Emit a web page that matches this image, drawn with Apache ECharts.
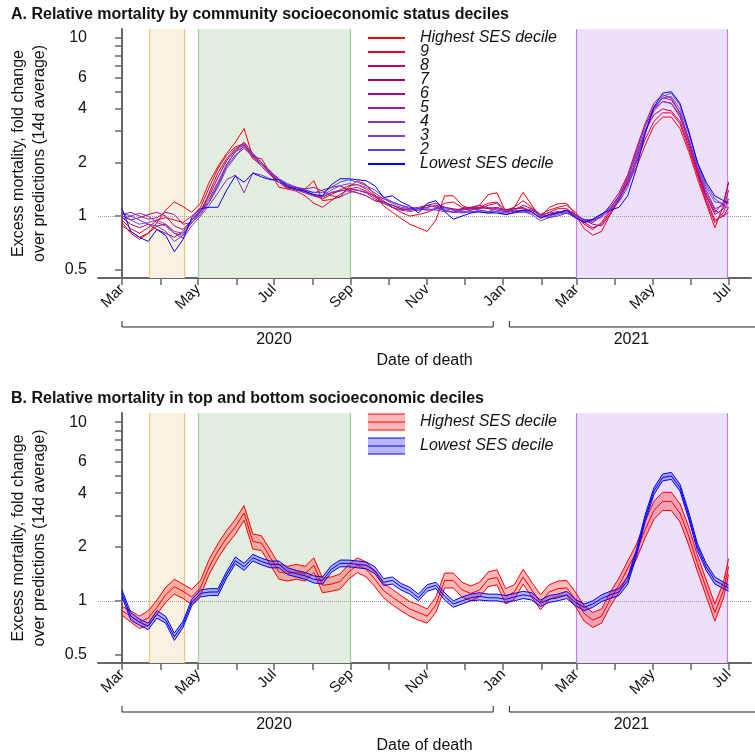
<!DOCTYPE html>
<html>
<head>
<meta charset="utf-8">
<script src="https://cdn.jsdelivr.net/npm/echarts@6/dist/echarts.min.js"></script>
<style>
  html, body { margin: 0; padding: 0; background: #fff; }
  #chart { width: 755px; height: 752px; }
</style>
</head>
<body>
<div id="chart"></div>
<script>
// weekly samples from 1 Mar 2020, last one on 1 Jul 2021
const startDate = '2020-03-01';
const DAY = 86400000;
const t0 = Date.parse(startDate);
const dayOf = s => (Date.parse(s) - t0) / DAY;
const shift = (s, n) => new Date(Date.parse(s) + n * DAY).toISOString().slice(0, 10);

const dates = [];
for (let i = 0; i < 70; i++) dates.push(shift(startDate, 7 * i));
dates.push('2021-07-01');

const decileNames = ['Highest SES decile', '9', '8', '7', '6', '5', '4', '3', '2', 'Lowest SES decile'];

// fold change
const highest = [0.88,0.82,0.76,0.80,0.92,1.08,1.20,1.13,1.05,1.18,
  1.55,1.90,2.25,2.60,3.10,2.15,2.10,1.75,1.45,1.42,
  1.45,1.42,1.58,1.22,1.24,1.28,1.45,1.58,1.50,1.32,
  1.14,1.05,0.97,0.90,0.86,0.82,0.95,1.30,1.30,1.15,
  1.10,1.15,1.32,1.35,1.06,1.12,1.36,1.15,0.98,1.12,
  1.17,1.18,1.02,0.85,0.78,0.82,1.02,1.22,1.52,1.88,
  2.50,3.20,3.60,3.60,3.10,2.30,1.62,1.18,0.86,1.15,1.55];
const dec9 = [0.95,0.85,0.80,0.86,0.95,0.98,0.95,0.92,1.00,1.12,
  1.45,1.85,2.20,2.45,2.55,2.10,1.95,1.80,1.55,1.45,
  1.40,1.38,1.30,1.25,1.32,1.40,1.48,1.50,1.42,1.30,
  1.22,1.12,1.05,1.00,1.02,1.05,1.10,1.18,1.20,1.12,
  1.10,1.12,1.18,1.20,1.08,1.12,1.22,1.12,1.02,1.08,
  1.12,1.15,1.05,0.92,0.86,0.90,1.05,1.25,1.55,2.00,
  2.70,3.40,3.80,3.80,3.30,2.40,1.70,1.20,0.92,1.05,1.25];
const dec8 = [0.92,0.80,0.74,0.80,0.88,0.90,0.80,0.78,0.92,1.05,
  1.35,1.75,2.10,2.40,2.50,2.20,1.95,1.75,1.55,1.42,
  1.38,1.30,1.18,1.12,1.22,1.32,1.42,1.45,1.38,1.28,
  1.20,1.15,1.10,1.08,1.10,1.12,1.15,1.12,1.10,1.08,
  1.12,1.10,1.15,1.18,1.05,1.08,1.15,1.10,1.00,1.05,
  1.10,1.10,1.02,0.90,0.84,0.92,1.08,1.30,1.65,2.20,
  3.00,3.70,4.00,3.90,3.40,2.50,1.75,1.25,0.95,1.00,1.12];
const dec7 = [0.98,0.90,0.86,0.90,0.84,0.80,0.76,0.82,0.95,1.08,
  1.30,1.65,2.05,2.35,2.60,2.25,2.00,1.78,1.60,1.48,
  1.42,1.35,1.30,1.28,1.35,1.38,1.42,1.40,1.35,1.25,
  1.18,1.12,1.08,1.10,1.12,1.15,1.12,1.08,1.05,1.10,
  1.08,1.12,1.10,1.12,1.08,1.10,1.12,1.05,0.98,1.02,
  1.05,1.08,1.00,0.95,0.92,1.00,1.15,1.35,1.70,2.40,
  3.30,4.30,4.80,4.60,3.80,2.70,1.80,1.30,1.05,1.20,1.55];
const dec6 = [1.00,0.95,0.98,1.02,1.05,1.00,0.88,0.84,0.95,1.06,
  1.25,1.55,1.95,2.30,2.45,2.20,1.95,1.72,1.55,1.50,
  1.45,1.40,1.35,1.40,1.45,1.48,1.40,1.35,1.30,1.22,
  1.20,1.15,1.10,1.08,1.10,1.15,1.18,1.12,1.08,1.10,
  1.12,1.15,1.10,1.08,1.06,1.10,1.10,1.08,1.02,1.00,
  1.04,1.08,1.02,0.95,0.90,0.88,1.02,1.25,1.55,2.10,
  3.00,3.90,4.40,4.30,3.60,2.60,1.80,1.30,1.02,1.10,1.40];
const dec5 = [1.02,1.05,1.00,0.96,0.98,1.05,1.02,0.90,0.92,1.02,
  1.20,1.50,1.90,2.20,2.40,2.15,1.90,1.70,1.55,1.45,
  1.40,1.42,1.45,1.38,1.30,1.28,1.35,1.40,1.36,1.30,
  1.25,1.20,1.15,1.12,1.10,1.08,1.10,1.12,1.08,1.05,
  1.08,1.10,1.12,1.10,1.08,1.06,1.08,1.10,1.02,1.04,
  1.06,1.04,0.98,0.92,0.94,1.00,1.12,1.30,1.60,2.30,
  3.20,4.10,4.60,4.50,3.80,2.70,1.85,1.35,1.08,1.00,1.05];
const dec4 = [0.96,1.00,1.04,1.00,0.92,0.88,0.80,0.75,0.88,1.00,
  1.15,1.35,1.60,1.70,1.35,1.75,1.70,1.62,1.55,1.48,
  1.40,1.35,1.30,1.28,1.36,1.40,1.38,1.35,1.30,1.22,
  1.18,1.12,1.08,1.06,1.08,1.10,1.08,1.06,1.05,1.08,
  1.10,1.08,1.06,1.10,1.05,1.06,1.05,1.08,1.00,0.98,
  1.00,1.04,1.00,0.96,0.95,0.98,1.08,1.28,1.62,2.30,
  3.20,4.00,4.40,4.30,3.70,2.70,1.90,1.40,1.10,1.15,1.25];
const dec3 = [1.05,0.95,0.90,0.92,0.95,0.90,0.82,0.80,0.92,1.05,
  1.20,1.50,1.95,2.30,2.55,2.20,1.95,1.75,1.60,1.50,
  1.42,1.36,1.32,1.30,1.40,1.48,1.52,1.50,1.45,1.35,
  1.25,1.18,1.12,1.10,1.08,1.12,1.14,1.10,1.08,1.06,
  1.05,1.08,1.06,1.06,1.04,1.08,1.06,1.04,0.98,1.00,
  1.04,1.06,1.00,0.94,0.95,1.02,1.12,1.25,1.50,2.10,
  3.00,4.00,4.60,4.70,4.00,2.90,1.95,1.45,1.20,1.18,1.20];
const dec2 = [1.04,1.00,0.95,0.90,0.88,0.82,0.72,0.78,0.95,1.08,
  1.20,1.45,1.85,2.15,2.50,2.25,2.00,1.78,1.62,1.52,
  1.45,1.40,1.36,1.35,1.45,1.55,1.60,1.55,1.48,1.40,
  1.28,1.20,1.15,1.10,1.10,1.08,1.10,1.08,1.05,1.04,
  1.06,1.05,1.04,1.06,1.02,1.04,1.06,1.02,0.94,0.98,
  1.02,1.05,0.98,0.93,0.96,1.02,1.10,1.20,1.45,2.00,
  2.90,4.00,4.70,4.90,4.20,3.00,2.00,1.50,1.25,1.15,1.10];
const lowest = [1.10,0.82,0.76,0.72,0.84,0.78,0.63,0.74,0.98,1.10,
  1.12,1.12,1.40,1.68,1.55,1.74,1.66,1.60,1.60,1.46,
  1.42,1.38,1.32,1.30,1.50,1.62,1.62,1.60,1.58,1.48,
  1.27,1.30,1.20,1.14,1.04,1.18,1.22,1.06,0.96,1.00,
  1.04,1.06,1.04,1.04,1.02,1.05,1.08,1.06,0.97,1.02,
  1.04,1.08,0.98,0.92,0.96,1.03,1.08,1.12,1.30,1.85,
  2.90,4.10,4.90,5.00,4.30,3.00,2.00,1.55,1.30,1.22,1.18];

// confidence bands for panel B
const highestLo = [0.83,0.76,0.70,0.73,0.84,0.98,1.09,1.03,0.95,1.07,
  1.41,1.73,2.05,2.36,2.82,1.95,1.91,1.59,1.32,1.29,
  1.32,1.29,1.44,1.11,1.13,1.16,1.32,1.44,1.36,1.20,
  1.04,0.95,0.88,0.82,0.78,0.75,0.86,1.18,1.18,1.05,
  1.00,1.05,1.20,1.23,0.96,1.02,1.24,1.05,0.89,1.02,
  1.06,1.07,0.93,0.77,0.71,0.75,0.93,1.11,1.38,1.71,
  2.25,2.85,3.20,3.20,2.76,2.05,1.46,1.06,0.77,1.04,1.40];
const highestHi = [0.93,0.88,0.82,0.88,1.01,1.19,1.32,1.24,1.16,1.30,
  1.71,2.09,2.48,2.86,3.41,2.37,2.31,1.93,1.60,1.56,
  1.60,1.56,1.74,1.34,1.36,1.41,1.60,1.74,1.65,1.45,
  1.25,1.16,1.07,0.99,0.95,0.90,1.05,1.43,1.43,1.27,
  1.21,1.27,1.45,1.49,1.17,1.23,1.50,1.27,1.08,1.23,
  1.29,1.30,1.12,0.94,0.86,0.90,1.12,1.34,1.67,2.07,
  2.78,3.60,4.05,4.05,3.49,2.59,1.80,1.31,0.96,1.28,1.72];
const lowestLo = [1.05,0.78,0.73,0.69,0.80,0.75,0.60,0.71,0.94,1.05,
  1.07,1.07,1.34,1.61,1.48,1.67,1.59,1.53,1.53,1.40,
  1.36,1.32,1.26,1.24,1.44,1.55,1.55,1.53,1.51,1.42,
  1.22,1.24,1.15,1.09,1.00,1.13,1.17,1.01,0.92,0.96,
  1.00,1.01,1.00,1.00,0.98,1.00,1.03,1.01,0.93,0.98,
  1.00,1.03,0.94,0.88,0.92,0.99,1.03,1.07,1.24,1.77,
  2.77,3.92,4.69,4.78,4.11,2.87,1.91,1.48,1.24,1.17,1.13];
const lowestHi = [1.15,0.86,0.79,0.75,0.88,0.82,0.66,0.77,1.02,1.15,
  1.17,1.17,1.46,1.76,1.62,1.82,1.73,1.67,1.67,1.53,
  1.48,1.44,1.38,1.36,1.57,1.69,1.69,1.67,1.65,1.55,
  1.33,1.36,1.25,1.19,1.09,1.23,1.27,1.11,1.00,1.05,
  1.09,1.11,1.09,1.09,1.07,1.10,1.13,1.11,1.01,1.07,
  1.09,1.13,1.02,0.96,1.00,1.08,1.13,1.17,1.36,1.93,
  3.03,4.28,5.12,5.23,4.49,3.14,2.09,1.62,1.36,1.27,1.23];

const monthTicks = ['2020-03-01','2020-04-01','2020-05-01','2020-06-01','2020-07-01','2020-08-01',
  '2020-09-01','2020-10-01','2020-11-01','2020-12-01','2021-01-01','2021-02-01','2021-03-01',
  '2021-04-01','2021-05-01','2021-06-01','2021-07-01'];
const monthLabels = ['Mar','','May','','Jul','','Sep','','Nov','','Jan','','Mar','','May','','Jul'];
const yTicks = [0.5, 1, 2, 3, 4, 5, 6, 7, 8, 9, 10];
const yLabels = [0.5, 1, 2, 4, 6, 10];

// shaded periods
const periodStart = ['2020-03-23', '2020-05-01', '2021-03-01'];
const periodEnd = ['2020-04-20', '2020-08-31', '2021-06-30'];

// years under the date axis
const yearNames = ['2020', '2021'];
const yearLabelAt = ['2020-07-01', '2021-04-14'];
const yearFrom = ['2020-03-01', '2021-01-06'];
const yearTo = ['2020-12-24', null];

// ---- styles ----
const FONT = '"Liberation Sans", Arial, Helvetica, sans-serif';
const decileColors = ['#ff0000', '#e8002e', '#cc0050', '#b0005f', '#a00a80',
  '#9a1ea0', '#8c30c0', '#7a40d8', '#5a3ee8', '#0000ff'];
const periodFill = ['#f9f1e1', '#e3eee0', '#ede0fc'];
const periodEdge = ['#efc777', '#a3cf9d', '#c27ff4'];
const AXIS = '#666';
const grids = [{ top: 29, height: 249 }, { top: 413, height: 250 }];

const tickDays = monthTicks.map(dayOf);
const labelDays = tickDays.filter((d, i) => monthLabels[i] !== '');
const toXY = arr => dates.map((d, i) => [dayOf(d), Math.log10(arr[i])]);

function xAx(gi) {
  return {
    type: 'value', gridIndex: gi, min: -19.3, max: 505,
    axisLine: { show: true, onZero: false, lineStyle: { color: AXIS, width: 2 } },
    axisTick: { show: true, customValues: tickDays, length: 7, lineStyle: { color: AXIS, width: 1.5 } },
    axisLabel: {
      customValues: labelDays, rotate: 45, margin: 9, fontSize: 15, color: '#111', fontFamily: FONT,
      formatter: v => {
        const i = tickDays.findIndex(t => Math.abs(t - v) < 0.01);
        return i >= 0 ? monthLabels[i] : '';
      }
    },
    splitLine: { show: false }
  };
}

function yAx(gi) {
  return {
    type: 'value', gridIndex: gi, min: -0.348, max: 1.051,
    axisLine: { show: true, lineStyle: { color: AXIS, width: 2 } },
    axisTick: { show: true, customValues: yTicks.map(Math.log10), length: 7, lineStyle: { color: AXIS, width: 1.5 } },
    axisLabel: {
      customValues: yLabels.map(Math.log10), margin: 11, fontSize: 16, color: '#111', fontFamily: FONT,
      formatter: v => {
        const x = Math.pow(10, v);
        return x < 0.99 ? x.toFixed(1) : String(Math.round(x));
      }
    },
    splitLine: { show: false }
  };
}

function backdrop(gi) {
  return {
    type: 'line', xAxisIndex: gi, yAxisIndex: gi, data: [], silent: true, z: 1,
    markArea: {
      silent: true, z: 1,
      data: periodStart.map((s, i) => [
        { xAxis: dayOf(s), itemStyle: { color: periodFill[i] } },
        { xAxis: dayOf(periodEnd[i]) }
      ])
    },
    markLine: {
      silent: true, z: 1, symbol: 'none', label: { show: false },
      data: [].concat(
        ...periodStart.map((s, i) => [
          { xAxis: dayOf(s), lineStyle: { color: periodEdge[i], type: 'solid', width: 1.2 } },
          { xAxis: dayOf(periodEnd[i]), lineStyle: { color: periodEdge[i], type: 'solid', width: 1.2 } }
        ]),
        [{ yAxis: 0, lineStyle: { color: '#a0a0a0', type: 'dotted', width: 1 } }]
      )
    }
  };
}

const decileValues = [highest, dec9, dec8, dec7, dec6, dec5, dec4, dec3, dec2, lowest];

const series = [backdrop(0), backdrop(1)];
decileValues.forEach((vals, i) => {
  series.push({
    type: 'line', name: decileNames[i], xAxisIndex: 0, yAxisIndex: 0,
    data: toXY(vals), symbol: 'none', color: decileColors[i],
    lineStyle: { width: 1, color: decileColors[i] }, z: 3
  });
});

// band = one polygon through the axis scales, plus three lines
function band(lo, mid, hi, color, fill) {
  const loXY = toXY(lo), hiXY = toXY(hi);
  const common = { xAxisIndex: 1, yAxisIndex: 1, silent: true, z: 3 };
  return [
    Object.assign({}, common, {
      type: 'custom', data: [loXY[0]], clip: true,
      renderItem: (params, api) => ({
        type: 'polygon',
        shape: { points: hiXY.map(p => api.coord(p)).concat(loXY.slice().reverse().map(p => api.coord(p))) },
        style: { fill }
      })
    }),
    Object.assign({}, common, { type: 'line', symbol: 'none', data: loXY, lineStyle: { width: 1, color } }),
    Object.assign({}, common, { type: 'line', symbol: 'none', data: toXY(mid), lineStyle: { width: 1, color } }),
    Object.assign({}, common, { type: 'line', symbol: 'none', data: hiXY, lineStyle: { width: 1, color } })
  ];
}
series.push(...band(highestLo, highest, highestHi, '#ff0000', 'rgba(255,0,0,0.28)'));
series.push(...band(lowestLo, lowest, lowestHi, '#0000ff', 'rgba(0,0,255,0.28)'));

const chart = echarts.init(document.getElementById('chart'));
chart.setOption({
  animation: false,
  backgroundColor: '#fff',
  title: [
    { text: 'A. Relative mortality by community socioeconomic status deciles', left: 11, top: 7, padding: 0,
      textStyle: { fontSize: 16, fontWeight: 'bold', fontFamily: FONT, color: '#111' } },
    { text: 'B. Relative mortality in top and bottom socioeconomic deciles', left: 11, top: 391, padding: 0,
      textStyle: { fontSize: 16, fontWeight: 'bold', fontFamily: FONT, color: '#111' } }
  ],
  grid: grids.map(g => ({ left: 98, right: 4, top: g.top, height: g.height })),
  xAxis: [xAx(0), xAx(1)],
  yAxis: [yAx(0), yAx(1)],
  legend: {
    left: 368, top: 30, orient: 'vertical', padding: 0, itemGap: -2,
    itemWidth: 37, itemHeight: 2, icon: 'rect', selectedMode: false,
    data: decileNames,
    textStyle: { fontSize: 16, fontStyle: 'italic', fontFamily: FONT, color: '#111', lineHeight: 14, padding: [0, 0, 0, 10] }
  },
  series
});

// decorations that sit outside the plot areas
const graphic = [];
grids.forEach((g, gi) => {
  const base = g.top + g.height;
  const px = d => chart.convertToPixel({ xAxisIndex: gi }, d);
  yearNames.forEach((y, i) => {
    const xa = px(dayOf(yearFrom[i]));
    const pts = [[xa, base + 43], [xa, base + 49]];
    if (yearTo[i]) {
      const xb = px(dayOf(yearTo[i]));
      pts.push([xb, base + 49], [xb, base + 43]);
    } else {
      pts.push([760, base + 49]);
    }
    graphic.push({ type: 'polyline', silent: true, shape: { points: pts }, style: { stroke: '#222', lineWidth: 1, fill: null } });
    graphic.push({ type: 'text', silent: true, x: px(dayOf(yearLabelAt[i])), y: base + 62,
      style: { text: y, fontSize: 16, fontFamily: FONT, fill: '#111', align: 'center', verticalAlign: 'middle' } });
  });
  graphic.push({ type: 'text', silent: true, x: 424.5, y: base + 83,
    style: { text: 'Date of death', fontSize: 16, fontFamily: FONT, fill: '#111', align: 'center', verticalAlign: 'middle' } });
  graphic.push({ type: 'text', silent: true, x: 29, y: g.top + g.height / 2, rotation: Math.PI / 2,
    style: { text: 'Excess mortality, fold change\nover predictions (14d average)', fontSize: 16, lineHeight: 21,
      fontFamily: FONT, fill: '#111', align: 'center', verticalAlign: 'middle' } });
});

// panel B legend: band swatches
const bandLegend = [
  { name: 'Highest SES decile', line: '#ff0000', fill: 'rgba(255,0,0,0.28)', cy: 422 },
  { name: 'Lowest SES decile', line: '#0000ff', fill: 'rgba(0,0,255,0.28)', cy: 446 }
];
bandLegend.forEach(b => {
  graphic.push({ type: 'rect', silent: true, shape: { x: 368, y: b.cy - 8, width: 37, height: 16 }, style: { fill: b.fill } });
  [-8, 0, 8].forEach(o => graphic.push({ type: 'line', silent: true,
    shape: { x1: 368, y1: b.cy + o, x2: 405, y2: b.cy + o }, style: { stroke: b.line, lineWidth: 1 } }));
  graphic.push({ type: 'text', silent: true, x: 420, y: b.cy,
    style: { text: b.name, fontSize: 16, fontStyle: 'italic', fontFamily: FONT, fill: '#111', verticalAlign: 'middle' } });
});

chart.setOption({ graphic });
</script>
</body>
</html>
